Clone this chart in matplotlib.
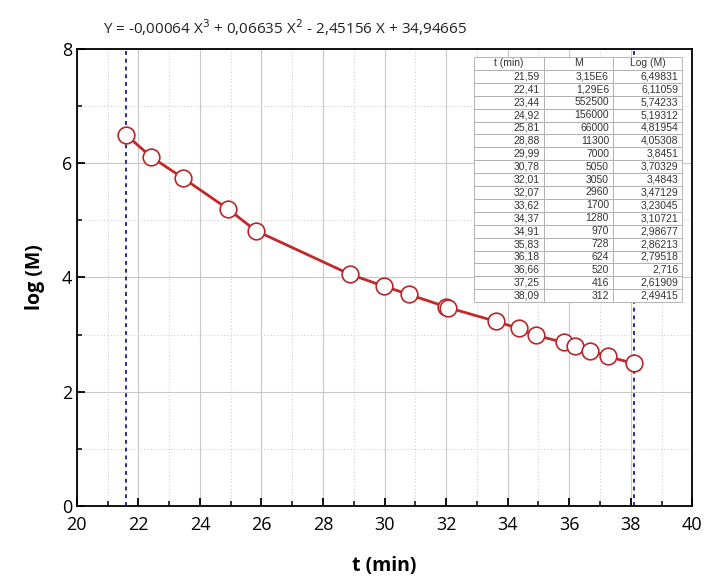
import matplotlib
matplotlib.use("Agg")
from matplotlib import pyplot as plt
from matplotlib.ticker import MultipleLocator

plt.rcParams['font.family'] = ['Open Sans', 'DejaVu Sans']

# table / data
t_min = [21.59, 22.41, 23.44, 24.92, 25.81, 28.88, 29.99, 30.78, 32.01, 32.07,
         33.62, 34.37, 34.91, 35.83, 36.18, 36.66, 37.25, 38.09]
m_text = ["3,15E6", "1,29E6", "552500", "156000", "66000", "11300", "7000", "5050",
          "3050", "2960", "1700", "1280", "970", "728", "624", "520", "416", "312"]
log_m = [6.49831, 6.11059, 5.74233, 5.19312, 4.81954, 4.05308, 3.8451, 3.70329,
         3.4843, 3.47129, 3.23045, 3.10721, 2.98677, 2.86213, 2.79518, 2.716,
         2.61909, 2.49415]
t_text = ["21,59", "22,41", "23,44", "24,92", "25,81", "28,88", "29,99", "30,78",
          "32,01", "32,07", "33,62", "34,37", "34,91", "35,83", "36,18", "36,66",
          "37,25", "38,09"]
log_text = ["6,49831", "6,11059", "5,74233", "5,19312", "4,81954", "4,05308", "3,8451",
            "3,70329", "3,4843", "3,47129", "3,23045", "3,10721", "2,98677", "2,86213",
            "2,79518", "2,716", "2,61909", "2,49415"]
col_labels = ["t (min)", "M", "Log (M)"]
vlines_x = [21.59, 38.09]

fig = plt.figure(figsize=(7.05, 5.81), dpi=100)
ax = fig.add_axes([0.109, 0.129, 0.873, 0.787])

ax.set_xlim(20, 40)
ax.set_ylim(0, 8)
ax.xaxis.set_major_locator(MultipleLocator(2))
ax.xaxis.set_minor_locator(MultipleLocator(1))
ax.yaxis.set_major_locator(MultipleLocator(2))
ax.yaxis.set_minor_locator(MultipleLocator(1))
ax.grid(which='major', color='#c8c8c8', linewidth=0.8)
ax.grid(which='minor', color='#d0d0d0', linewidth=0.8, linestyle=(0, (1, 2)))
ax.set_axisbelow(True)
ax.tick_params(which='major', direction='in', length=6, width=1.3, labelsize=13,
               top=False, right=False)
ax.tick_params(axis='x', which='major', pad=7)
ax.tick_params(which='minor', direction='in', length=3.5, width=1.1,
               top=False, right=False)
for s in ax.spines.values():
    s.set_linewidth(1.3)

for xv in vlines_x:
    ax.axvline(xv, color='#2a2a9c', linewidth=1.4, linestyle=(0, (2, 2)), zorder=2)

ax.plot(t_min, log_m, '-o', color='#c0282a', linewidth=2, markersize=12,
        markerfacecolor='white', markeredgecolor='#b8262a', markeredgewidth=1.2, zorder=3)

ax.set_xlabel("t (min)", fontsize=14, fontweight='bold', labelpad=16)
ax.set_ylabel("log (M)", fontsize=14, fontweight='bold', labelpad=12)

fig.text(0.405, 0.952, r"Y = -0,00064 X$^3$ + 0,06635 X$^2$ - 2,45156 X + 34,94665",
         ha='center', va='center', fontsize=11, color='#222222')

cells = [[a, b, c] for a, b, c in zip(t_text, m_text, log_text)]
tab = ax.table(cellText=cells, colLabels=col_labels, cellLoc='right',
               bbox=[0.646, 0.446, 0.338, 0.536], zorder=5)
tab.auto_set_font_size(False)
tab.set_fontsize(7.5)
for (r, c), cell in tab.get_celld().items():
    cell.set_edgecolor('#aaaaaa')
    cell.set_linewidth(0.6)
    cell.set_facecolor('white')
    cell.get_text().set_color('#333333')
    cell.get_text().set_fontfamily(['Liberation Sans', 'DejaVu Sans'])
    cell.PAD = 0.06
    if r == 0:
        cell.get_text().set_ha('center')

fig.savefig("out.png", dpi=100)
